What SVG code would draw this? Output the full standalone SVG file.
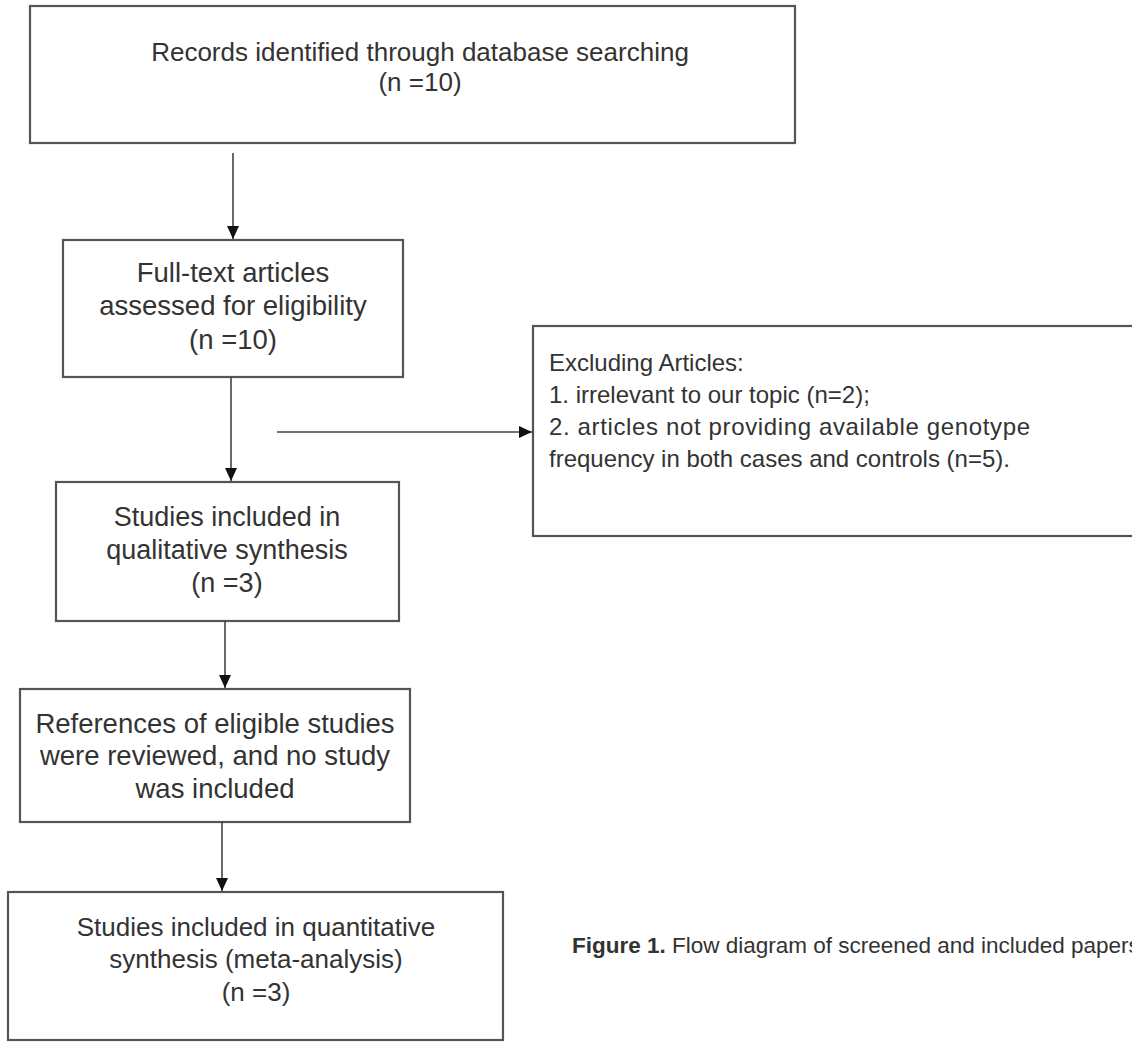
<svg xmlns="http://www.w3.org/2000/svg" width="1132" height="1042" viewBox="0 0 1132 1042">
<defs>
<style>
.box{fill:#fff;stroke:#555;stroke-width:2.2}
.t{font-family:"Liberation Sans",Arial,sans-serif;fill:#333;text-anchor:middle}
.e{font-family:"Liberation Sans",Arial,sans-serif;fill:#333;font-size:24px}
.c{stroke:#444;stroke-width:1.6;fill:none}
.cap{font-family:"Liberation Sans",Arial,sans-serif;fill:#333;font-size:22.5px}
</style>
<marker id="ah" viewBox="0 0 10 10" refX="10" refY="5" markerWidth="13" markerHeight="12" orient="auto" markerUnits="userSpaceOnUse" preserveAspectRatio="none">
<path d="M0,0 L10,5 L0,10 z" fill="#111"/>
</marker>
</defs>
<rect width="1132" height="1042" fill="#fff"/>
<g id="n1">
<rect class="box" x="30" y="6" width="765" height="137"/>
<text class="t" font-size="26" x="420" y="61">Records identified through database searching</text>
<text class="t" font-size="26" x="420" y="91">(n =10)</text>
</g>
<g id="n2">
<rect class="box" x="63" y="240" width="340" height="137"/>
<text class="t" font-size="27.5" x="233" y="282">Full-text articles</text>
<text class="t" font-size="27.5" x="233" y="315">assessed for eligibility</text>
<text class="t" font-size="27.5" x="233" y="349">(n =10)</text>
</g>
<g id="n3">
<rect class="box" x="56" y="482" width="343" height="139"/>
<text class="t" font-size="27" x="227" y="526">Studies included in</text>
<text class="t" font-size="27" x="227" y="559">qualitative synthesis</text>
<text class="t" font-size="27" x="227" y="592">(n =3)</text>
</g>
<g id="n4">
<rect class="box" x="20" y="689" width="390" height="133"/>
<text class="t" font-size="27.5" x="215" y="733">References of eligible studies</text>
<text class="t" font-size="27.5" x="215" y="765">were reviewed, and no study</text>
<text class="t" font-size="27.5" x="215" y="798">was included</text>
</g>
<g id="n5">
<rect class="box" x="8" y="892" width="495" height="148"/>
<text class="t" font-size="26" x="256" y="936">Studies included in quantitative</text>
<text class="t" font-size="26" x="256" y="968">synthesis (meta-analysis)</text>
<text class="t" font-size="26" x="256" y="1001">(n =3)</text>
</g>
<g id="n6">
<rect class="box" x="533" y="326" width="620" height="210"/>
<text class="e" x="549" y="371">Excluding Articles:</text>
<text class="e" x="549" y="403">1. irrelevant to our topic (n=2);</text>
<text class="e" x="549" y="435" textLength="481" lengthAdjust="spacing">2. articles not providing available genotype</text>
<text class="e" x="549" y="467">frequency in both cases and controls (n=5).</text>
</g>
<g id="connectors">
<line class="c" x1="233" y1="153" x2="233" y2="239" marker-end="url(#ah)"/>
<line class="c" x1="231" y1="377" x2="231" y2="481" marker-end="url(#ah)"/>
<line class="c" x1="225" y1="621" x2="225" y2="688" marker-end="url(#ah)"/>
<line class="c" x1="222" y1="822" x2="222" y2="891" marker-end="url(#ah)"/>
<line class="c" x1="277" y1="432" x2="532" y2="432" marker-end="url(#ah)"/>
</g>
<g id="caption">
<text class="cap" x="572" y="953"><tspan font-weight="bold">Figure 1.</tspan> Flow diagram of screened and included papers</text>
</g>
</svg>
